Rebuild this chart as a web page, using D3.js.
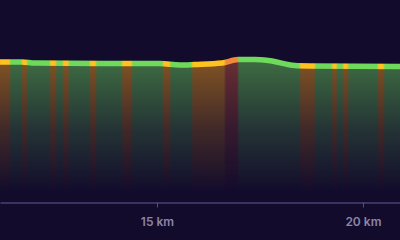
<!DOCTYPE html>
<html>
<head>
<meta charset="utf-8">
<script src="https://cdn.jsdelivr.net/npm/d3@7"></script>
<style>
  html, body { margin: 0; padding: 0; background: #120b2c; }
  svg { display: block; }
</style>
</head>
<body>
<svg id="chart"></svg>
<script>
var width = 400;
var height = 240;

// elevation profile (km, metres)
var distances = [11.19, 11.72, 12.04, 13.62, 15.07, 15.56, 15.92, 16.58, 16.97, 17.38, 17.70, 18.35, 18.71, 20.90];
var elevations = [101.2, 101.2, 100.4, 100.1, 100.1, 99.0, 99.4, 100.5, 103.0, 103.0, 102.3, 98.6, 98.3, 97.9];

// grade segments: start km, end km, class
var segStart = [11.19, 11.43, 11.72, 11.85, 12.40, 12.55, 12.72, 12.86, 13.37, 13.52, 14.15, 14.39, 15.15, 15.32, 15.85, 16.65, 16.97, 18.47, 18.84, 19.25, 19.37, 19.52, 19.64, 20.36, 20.51];
var segEnd   = [11.43, 11.72, 11.85, 12.40, 12.55, 12.72, 12.86, 13.37, 13.52, 14.15, 14.39, 15.15, 15.32, 15.85, 16.65, 16.97, 18.47, 18.84, 19.25, 19.37, 19.52, 19.64, 20.36, 20.51, 20.90];
var segGrade = ["mod", "flat", "mod", "flat", "mod", "flat", "mod", "flat", "mod", "flat", "mod", "flat", "mod", "flat", "mod", "steep", "flat", "mod", "flat", "mod", "flat", "mod", "flat", "mod", "flat"];

var tickValues = [15, 20];

var lineColors = { flat: "#6fd95b", mod: "#ffc21f", steep: "#f08a3a" };
var fillColors = { flat: "#6fd95b", mod: "#ffa51a", steep: "#c9573a" };

var points = distances.map((d, i) => ({ km: d, ele: elevations[i] }));

var xScale = d3.scaleLinear()
                .domain([11.19, 20.9])
                .range([0, width]);

var yScale = d3.scaleLinear()
                .domain([0, 110])
                .range([200, 50]);

var svg = d3.select("#chart")
            .attr("width", width)
            .attr("height", height);

var defs = svg.append("defs");

function segGradient(id, colors) {
  var g = defs.append("linearGradient")
      .attr("id", id)
      .attr("gradientUnits", "userSpaceOnUse")
      .attr("x1", 0).attr("x2", width)
      .attr("y1", 0).attr("y2", 0);
  var blend = 1.2;
  segStart.forEach((s, i) => {
    var a = xScale(s) + (i === 0 ? 0 : blend);
    var b = xScale(segEnd[i]) - (i === segStart.length - 1 ? 0 : blend);
    g.append("stop").attr("offset", a / width).attr("stop-color", colors[segGrade[i]]);
    g.append("stop").attr("offset", b / width).attr("stop-color", colors[segGrade[i]]);
  });
}
segGradient("lineGrad", lineColors);
segGradient("fillGrad", fillColors);

// vertical fade for the fill
var fade = defs.append("linearGradient")
    .attr("id", "fade")
    .attr("gradientUnits", "userSpaceOnUse")
    .attr("x1", 0).attr("x2", 0)
    .attr("y1", 64).attr("y2", 194);
fade.append("stop").attr("offset", 0).attr("stop-color", "#fff").attr("stop-opacity", 0.46);
fade.append("stop").attr("offset", 0.5).attr("stop-color", "#fff").attr("stop-opacity", 0.2);
fade.append("stop").attr("offset", 1).attr("stop-color", "#fff").attr("stop-opacity", 0);

defs.append("mask")
    .attr("id", "fadeMask")
    .attr("maskUnits", "userSpaceOnUse")
    .attr("x", 0).attr("y", 0).attr("width", width).attr("height", height)
  .append("rect")
    .attr("width", width)
    .attr("height", height)
    .attr("fill", "url(#fade)");

var area = d3.area()
    .x(d => xScale(d.km))
    .y0(yScale(0))
    .y1(d => yScale(d.ele))
    .curve(d3.curveMonotoneX);

var line = d3.line()
    .x(d => xScale(d.km))
    .y(d => yScale(d.ele))
    .curve(d3.curveMonotoneX);

svg.append("path")
    .datum(points)
    .attr("d", area)
    .attr("fill", "url(#fillGrad)")
    .attr("mask", "url(#fadeMask)");

svg.append("path")
    .datum(points)
    .attr("d", line)
    .attr("fill", "none")
    .attr("stroke", "url(#lineGrad)")
    .attr("stroke-width", 5.5)
    .attr("stroke-linejoin", "round");

var xAxis = d3.axisBottom(xScale)
    .tickValues(tickValues)
    .tickSize(5)
    .tickSizeOuter(0)
    .tickFormat(d => d + " km");

var gx = svg.append("g")
    .attr("transform", "translate(0,202.5)")
    .call(xAxis);

gx.select(".domain")
    .attr("stroke", "#4a4170")
    .attr("stroke-width", 1.5);
gx.selectAll(".tick line")
    .attr("stroke", "#5b5282");
gx.selectAll(".tick text")
    .attr("fill", "#8c84a8")
    .attr("font-family", "Inter, 'Noto Sans', sans-serif")
    .attr("font-size", 12)
    .attr("font-weight", 600)
    .attr("dy", "1.3em");
</script>
</body>
</html>
